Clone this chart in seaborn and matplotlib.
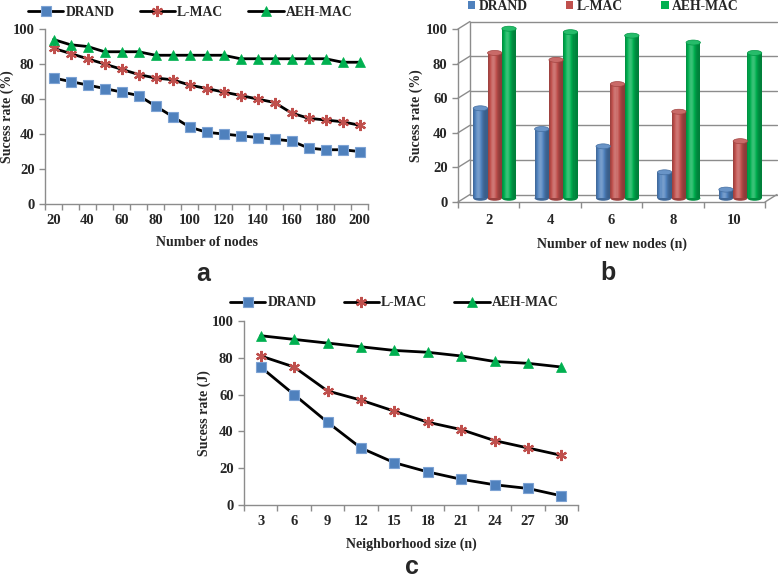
import numpy as np
import pandas as pd
import matplotlib
matplotlib.use("Agg")
import matplotlib.pyplot as plt
import matplotlib.colors as mcolors
from matplotlib.patches import Rectangle, Ellipse, Patch
import seaborn as sns

# ---------------- data ----------------
nodes_a = [20, 30, 40, 50, 60, 70, 80, 90, 100, 110, 120, 130, 140, 150, 160, 170, 180, 190, 200]
drand_a = [72, 70, 68, 66, 64, 62, 56, 50, 44, 41, 40, 39, 38, 37, 36, 32, 31, 31, 30]
lmac_a = [89, 86, 83, 80, 77, 74, 72, 71, 68, 66, 64, 62, 60, 58, 52, 49, 48, 47, 45]
aeh_a = [94, 91, 90, 87, 87, 87, 85, 85, 85, 85, 85, 83, 83, 83, 83, 83, 83, 81, 81]

new_nodes_b = ["2", "4", "6", "8", "10"]
drand_b = [52, 40, 30, 15, 5]
lmac_b = [84, 80, 66, 50, 33]
aeh_b = [98, 96, 94, 90, 84]

neigh_c = [3, 6, 9, 12, 15, 18, 21, 24, 27, 30]
drand_c = [75, 60, 45, 31, 23, 18, 14, 11, 9, 5]
lmac_c = [81, 75, 62, 57, 51, 45, 41, 35, 31, 27]
aeh_c = [92, 90, 88, 86, 84, 83, 81, 78, 77, 75]

series_names = ["DRAND", "L-MAC", "AEH-MAC"]
colors = ["#4F81BD", "#C0504D", "#00B050"]
y_ticks = [0, 20, 40, 60, 80, 100]

# ---------------- style ----------------
sns.set_theme(style="white")
plt.rcParams["font.family"] = ["Liberation Serif", "DejaVu Serif"]
W, H = 778, 578
fig = plt.figure(figsize=(W / 100, H / 100), dpi=100)
GRAY = "#8c8c8c"
TICK_FS = 10.5
LAB_FS = 10
LEG_FS = 9.8
LEG_PROP = dict(size=LEG_FS, weight="bold")


def px_axes(left, right, top, bottom):
    return fig.add_axes([left / W, (H - bottom) / H, (right - left) / W, (bottom - top) / H])


def set_ylabel_px(ax, text, x_px, left, right):
    ax.set_ylabel(text, fontsize=LAB_FS, fontweight="bold")
    ax.yaxis.set_label_coords((x_px - left) / (right - left), 0.5)


def line_panel(ax, cats, data, label_step):
    pos = np.arange(len(cats))
    styles = [
        dict(marker="s", markersize=7.5, markeredgecolor="#7da3d4", markeredgewidth=0.8),
        dict(marker=(6, 2, 0), markersize=8, markeredgewidth=1.6),
        dict(marker="^", markersize=7.5, markeredgewidth=0.5),
    ]
    for name, vals, col, st in zip(series_names, data, colors, styles):
        kw = dict(st)
        kw.setdefault("markeredgecolor", col)
        sns.lineplot(x=pos, y=vals, ax=ax, color="black", lw=2,
                     markerfacecolor=col, label=name, **kw)
    ax.set_xlim(-0.5, len(cats) - 0.5)
    ax.set_ylim(0, 100)
    ax.set_yticks(y_ticks)
    ax.set_xticks(np.arange(-0.5, len(cats), 1.0))
    ax.set_xticklabels([])
    lab_pos = pos[::label_step]
    ax.set_xticks(lab_pos, minor=True)
    ax.set_xticklabels([str(cats[i]) for i in lab_pos], minor=True)
    ax.tick_params(axis="x", which="minor", length=0, pad=7, labelsize=TICK_FS)
    ax.tick_params(axis="both", which="major", direction="out", length=4, width=1,
                   color=GRAY, labelsize=TICK_FS, bottom=True, left=True)
    for lab in ax.get_xticklabels(minor=True) + ax.get_yticklabels():
        lab.set_fontweight("bold")
    for s in ["top", "right"]:
        ax.spines[s].set_visible(False)
    for s in ["left", "bottom"]:
        ax.spines[s].set_color(GRAY)
        ax.spines[s].set_linewidth(1)
    ax.grid(False)
    ax.get_legend().remove()


# ---------------- panel a ----------------
ax_a = px_axes(45, 368, 29, 204)
line_panel(ax_a, nodes_a, [drand_a, lmac_a, aeh_a], 2)
ax_a.set_xlabel("Number of nodes", fontsize=LAB_FS, fontweight="bold", labelpad=7)
set_ylabel_px(ax_a, "Sucess rate (%)", 14, 45, 368)
h, l = ax_a.get_legend_handles_labels()
fig.legend(h, l, loc="center left", bbox_to_anchor=(28 / W, 1 - 12 / H), ncol=3,
           frameon=False, prop=LEG_PROP, handlelength=2.6, handletextpad=0.15,
           columnspacing=1.85, borderaxespad=0, borderpad=0)

# ---------------- panel c ----------------
ax_c = px_axes(244, 578, 321, 505)
line_panel(ax_c, neigh_c, [drand_c, lmac_c, aeh_c], 1)
ax_c.set_xlabel("Neighborhood size (n)", fontsize=LAB_FS, fontweight="bold", labelpad=7)
set_ylabel_px(ax_c, "Sucess rate (J)", 211, 244, 578)
h, l = ax_c.get_legend_handles_labels()
fig.legend(h, l, loc="center left", bbox_to_anchor=(230 / W, 1 - 303 / H), ncol=3,
           frameon=False, prop=LEG_PROP, handlelength=2.6, handletextpad=0.15,
           columnspacing=2.0, borderaxespad=0, borderpad=0)

# ---------------- panel b (pseudo 3D bars) ----------------
L, R, T, B = 458, 765, 29, 202
ax_b = px_axes(L, R, T, B)
df_b = pd.DataFrame({
    "cat": new_nodes_b * 3,
    "series": sum([[s] * len(new_nodes_b) for s in series_names], []),
    "value": drand_b + lmac_b + aeh_b,
})
sns.barplot(data=df_b, x="cat", y="value", hue="series", order=new_nodes_b,
            hue_order=series_names, palette=colors, width=0.7, ax=ax_b,
            saturation=1, legend=False)
ax_b.set_xlim(-0.5, len(new_nodes_b) - 0.5)
ax_b.set_ylim(0, 100)
DX = 12 / (R - L) * len(new_nodes_b)
DY = 7.5 / (B - T) * 100

# back wall + grid
for v in y_ticks:
    ax_b.plot([-0.5 + DX, len(new_nodes_b) - 0.5 + DX], [v + DY, v + DY], color=GRAY,
              lw=1, clip_on=False, zorder=0.5)
    ax_b.plot([-0.5, -0.5 + DX], [v, v + DY], color=GRAY, lw=1, clip_on=False, zorder=0.5)
ax_b.plot([-0.5 + DX, -0.5 + DX], [DY, 100 + DY], color=GRAY, lw=1, clip_on=False, zorder=0.5)
ax_b.plot([len(new_nodes_b) - 0.5, len(new_nodes_b) - 0.5 + DX], [0, DY], color=GRAY,
          lw=1, clip_on=False, zorder=0.5)


def shade(col, f):
    rgb = np.array(mcolors.to_rgb(col))
    if f >= 1:
        return tuple(rgb + (1 - rgb) * (f - 1))
    return tuple(rgb * f)


ell_h = 5 / (B - T) * 100
bars = list(ax_b.patches)
for p in bars:
    x0 = p.get_x() + DX / 2
    w = p.get_width()
    hgt = p.get_height()
    col = p.get_facecolor()
    p.set_visible(False)
    y0 = DY / 2
    ax_b.add_patch(Ellipse((x0 + w / 2, y0), w, ell_h, facecolor=shade(col, 0.8),
                           edgecolor="none", zorder=2, clip_on=False))
    n = 14
    for k in range(n):
        t = (k + 0.5) / n
        f = 0.72 + 0.5 * np.exp(-((t - 0.38) / 0.28) ** 2)
        ax_b.add_patch(Rectangle((x0 + k * w / n, y0), w / n * 1.05, hgt,
                                 facecolor=shade(col, f), edgecolor="none",
                                 zorder=2.1, clip_on=False))
    ax_b.add_patch(Ellipse((x0 + w / 2, y0 + hgt), w, ell_h, facecolor=shade(col, 1.15),
                           edgecolor=shade(col, 0.85), lw=0.5, zorder=2.2, clip_on=False))

ax_b.set_yticks(y_ticks)
ax_b.set_xticks(np.arange(-0.5, len(new_nodes_b), 1.0))
ax_b.set_xticklabels([])
ax_b.set_xticks(np.arange(len(new_nodes_b)), minor=True)
ax_b.set_xticklabels(new_nodes_b, minor=True)
ax_b.tick_params(axis="x", which="minor", length=0, pad=9, labelsize=TICK_FS)
ax_b.tick_params(axis="both", which="major", direction="out", length=4, width=1,
                 color=GRAY, labelsize=TICK_FS, bottom=True, left=True)
for lab in ax_b.get_xticklabels(minor=True) + ax_b.get_yticklabels():
    lab.set_fontweight("bold")
for s in ["top", "right"]:
    ax_b.spines[s].set_visible(False)
for s in ["left", "bottom"]:
    ax_b.spines[s].set_color(GRAY)
    ax_b.spines[s].set_linewidth(1)
ax_b.grid(False)
ax_b.set_xlabel("Number of new nodes (n)", fontsize=LAB_FS, fontweight="bold", labelpad=7)
set_ylabel_px(ax_b, "Sucess rate (%)", 423, L, R)
handles_b = [Patch(facecolor=c, edgecolor="none") for c in colors]
fig.legend(handles_b, series_names, loc="center left", bbox_to_anchor=(468 / W, 1 - 6 / H),
           ncol=3, frameon=False, prop=LEG_PROP, handlelength=0.55, handleheight=0.55,
           handletextpad=0.25, columnspacing=2.8, borderaxespad=0, borderpad=0)

# ---------------- panel letters ----------------
for txt, x, y in [("a", 203, 281), ("b", 608, 280), ("c", 412, 574)]:
    fig.text(x / W, 1 - y / H, txt, ha="center", va="baseline", fontsize=18,
             fontweight="bold", family=["Liberation Sans", "DejaVu Sans"])

fig.savefig("out.png", dpi=100)
